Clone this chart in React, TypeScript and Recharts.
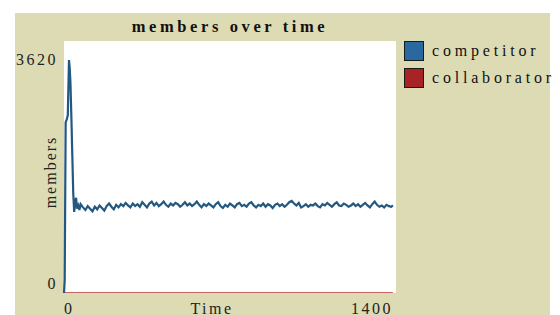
import React from 'react';
import { LineChart, Line, XAxis, YAxis, Label, CartesianGrid } from 'recharts';

const chartTitle = 'members over time';
const xAxisTitle = 'Time';
const yAxisTitle = 'members';
const xTicks = [0, 1400];
const yTicks = [0, 3620];
const seriesNames = ['competitor', 'collaborator'];

const earlyTimes = [0, 3, 7, 12, 16, 21, 24, 27, 31, 35, 39, 43, 47, 51, 55, 60, 65, 70];
const earlyCompetitor = [0, 200, 2650, 2700, 2760, 3620, 3500, 3280, 2750, 2150, 1550, 1260, 1400, 1480, 1310, 1360, 1290, 1380];

const plateauStart = 80;
const plateauCompetitor = [
  1330, 1290, 1350, 1310, 1270, 1340, 1300, 1360, 1320, 1280, 1350, 1390, 1340, 1300, 1370, 1330, 1380, 1350, 1400, 1360, 1330, 1390, 1350,
  1380, 1340, 1410, 1370, 1330, 1390, 1420, 1360, 1400, 1350, 1380, 1420, 1370, 1340, 1390, 1360, 1400, 1380, 1340, 1370, 1410, 1360, 1390, 1350, 1380, 1420, 1370, 1330, 1380, 1350,
  1390, 1360, 1330, 1380, 1410, 1350, 1320, 1370, 1340, 1390, 1360, 1330, 1380, 1400, 1350, 1370, 1340, 1390, 1410, 1360, 1330, 1370, 1350, 1390, 1340, 1380, 1360, 1320, 1370, 1390,
  1350, 1380, 1340, 1370, 1410, 1430, 1390, 1360, 1400, 1330, 1350, 1380, 1340, 1370, 1360, 1390, 1350, 1330, 1380, 1360, 1400, 1370, 1340, 1380, 1410, 1360, 1350, 1390, 1370, 1340,
  1360, 1390, 1350, 1380, 1340, 1370, 1400, 1360, 1330, 1380, 1420, 1370, 1340, 1360, 1330, 1370, 1350, 1340,
];
const lastTime = 1387;
const lastCompetitor = 1360;

const collaboratorTimes = [0, 1387];
const collaboratorValues = [0, 0];

const competitorData = [
  ...earlyTimes.map((t, i) => ({ t, v: earlyCompetitor[i] })),
  ...plateauCompetitor.map((v, i) => ({ t: plateauStart + i * 10, v })),
  { t: lastTime, v: lastCompetitor },
];
const collaboratorData = collaboratorTimes.map((t, i) => ({ t, v: collaboratorValues[i] }));

const BLUE_LINE = '#235880';
const BLUE_SWATCH = '#2a68a0';
const RED_LINE = '#b3302c';
const RED_SWATCH = '#a82424';
const BEIGE = '#dddbb3';
const FONT = '"Liberation Serif", "DejaVu Serif", serif';

const YTick = (props: any) => {
  const { y, payload } = props;
  const yy = payload.value === 0 ? y - 10 : y;
  return (
    <text x={58} y={yy} textAnchor="end" dominantBaseline="central" fontFamily={FONT} fontSize={16} letterSpacing={2.5} fill="#222">
      {payload.value}
    </text>
  );
};

const XTick = (props: any) => {
  const { x, payload } = props;
  const first = payload.value === 0;
  return (
    <text x={first ? x : x - 3} y={308} textAnchor={first ? 'start' : 'end'} dominantBaseline="central" fontFamily={FONT} fontSize={16} letterSpacing={2.5} fill="#222">
      {payload.value}
    </text>
  );
};

export default function App() {
  return (
    <div style={{ position: 'absolute', left: 0, top: 0, width: 560, height: 315, background: '#ffffff', overflow: 'hidden' }}>
      <div style={{ position: 'absolute', left: 15, top: 13, width: 535, height: 302, background: BEIGE }} />
      <div style={{ position: 'absolute', left: 0, top: 0 }}>
        <LineChart width={560} height={315} margin={{ top: 41, right: 164, bottom: 0, left: 0 }}>
          <CartesianGrid fill="#ffffff" stroke="none" horizontal={false} vertical={false} />
          <XAxis
            dataKey="t"
            type="number"
            domain={[0, 1400]}
            ticks={xTicks}
            axisLine={false}
            tickLine={false}
            height={22}
            tick={<XTick />}
            allowDuplicatedCategory={false}
          >
            <Label
              content={() => (
                <text x={212} y={308} textAnchor="middle" dominantBaseline="central" fontFamily={FONT} fontSize={16} letterSpacing={2.5} fill="#222">
                  {xAxisTitle}
                </text>
              )}
            />
          </XAxis>
          <YAxis
            type="number"
            domain={[0, 3915]}
            ticks={yTicks}
            axisLine={false}
            tickLine={false}
            width={64}
            tick={<YTick />}
            allowDataOverflow
          >
            <Label
              content={() => (
                <text x={50} y={172} textAnchor="middle" dominantBaseline="central" fontFamily={FONT} fontSize={16} letterSpacing={2} fill="#222" transform="rotate(-90 50 172)">
                  {yAxisTitle}
                </text>
              )}
            />
          </YAxis>
          <Line data={collaboratorData} dataKey="v" name={seriesNames[1]} type="linear" stroke={RED_LINE} strokeWidth={1.5} dot={false} isAnimationActive={false} />
          <Line data={competitorData} dataKey="v" name={seriesNames[0]} type="linear" stroke={BLUE_LINE} strokeWidth={2.2} dot={false} isAnimationActive={false} />
        </LineChart>
      </div>
      <div style={{ position: 'absolute', left: 64, width: 332, top: 17, height: 20, lineHeight: '20px', textAlign: 'center', fontFamily: FONT, fontWeight: 'bold', fontSize: 16.5, letterSpacing: 3.6, color: '#111' }}>
        {chartTitle}
      </div>
      {[BLUE_SWATCH, RED_SWATCH].map((c, i) => (
        <div key={i}>
          <div style={{ position: 'absolute', left: 404, top: 41 + i * 27, width: 18, height: 18, background: c, border: '1px solid #1a1a1a' }} />
          <div style={{ position: 'absolute', left: 432, top: 41 + i * 27, height: 20, lineHeight: '20px', fontFamily: FONT, fontSize: 16, letterSpacing: 3.8, color: '#111', whiteSpace: 'nowrap' }}>
            {seriesNames[i]}
          </div>
        </div>
      ))}
    </div>
  );
}
